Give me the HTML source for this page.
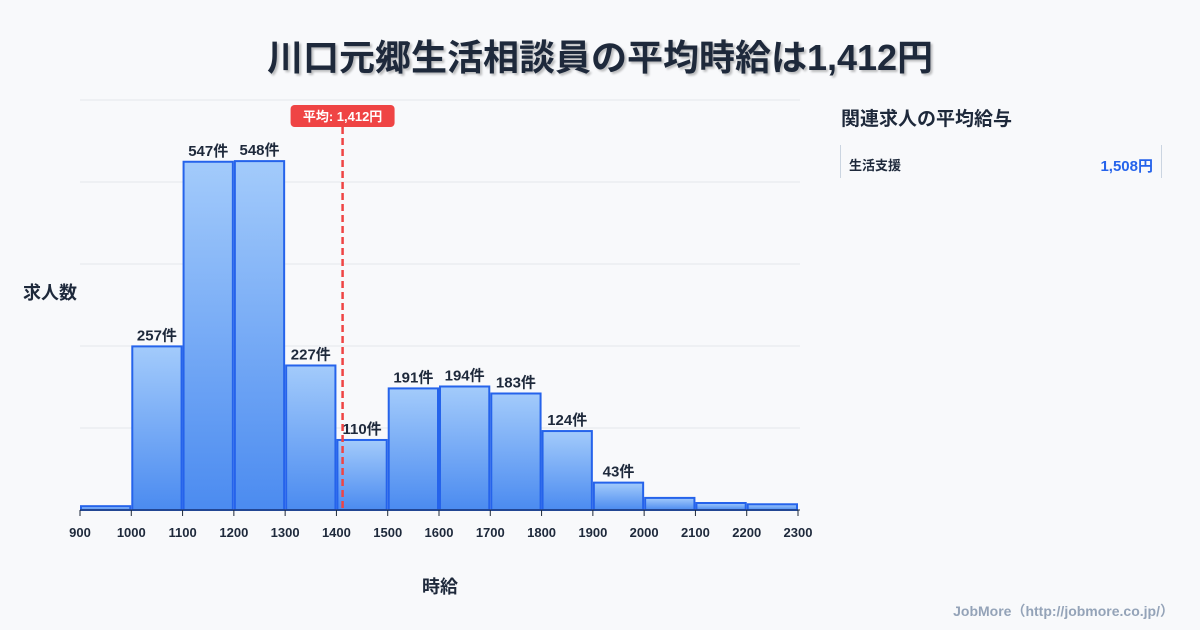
<!DOCTYPE html>
<html><head><meta charset="utf-8"><style>
body{margin:0;width:1200px;height:630px;background:#f8f9fb;font-family:"Liberation Sans","Noto Sans CJK JP",sans-serif;overflow:hidden;position:relative}
.t{position:absolute;left:0;width:1200px;text-align:center;top:29px;font-size:36px;font-weight:bold;color:#1e293b;text-shadow:2px 2px 2px rgba(0,0,0,.25)}
</style></head><body>
<div class="t">川口元郷生活相談員の平均時給は1,412円</div>
<div style="position:absolute;left:841px;top:104px;font-size:19px;font-weight:bold;color:#1e293b">関連求人の平均給与</div>
<div style="position:absolute;left:840px;top:145px;width:320px;height:33px;border-left:1px solid #cbd5e1;border-right:1px solid #cbd5e1">
<span style="position:absolute;left:8px;top:10px;font-size:13px;font-weight:bold;color:#1e293b">生活支援</span>
<span style="position:absolute;right:8px;top:10px;font-size:15px;font-weight:bold;color:#2563eb">1,508円</span></div>
<div style="position:absolute;right:26px;top:601px;font-size:14px;font-weight:bold;color:#94a3b8">JobMore（http://jobmore.co.jp/）</div>
<svg id="c" width="1200" height="630" style="position:absolute;left:0;top:0">
<defs><linearGradient id="g" x1="0" y1="0" x2="0" y2="1"><stop offset="0" stop-color="#a3cbfb"/><stop offset="1" stop-color="#4b8bf0"/></linearGradient></defs>
</svg>
<script>
const binStarts=[900,1000,1100,1200,1300,1400,1500,1600,1700,1800,1900,2000,2100,2200];
const counts=[6,257,547,548,227,110,191,194,183,124,43,19,11,9];
const showLabel=[false,true,true,true,true,true,true,true,true,true,true,false,false,false];
const xTicks=[900,1000,1100,1200,1300,1400,1500,1600,1700,1800,1900,2000,2100,2200,2300];
const meanValue=1412;
const meanLabel="平均: 1,412円";
const svg=document.getElementById('c'),NS='http://www.w3.org/2000/svg';
const X=v=>80+(v-900)*(718/1400), Y=v=>510-v*(410/644);
function mk(t,a,txt){const e=document.createElementNS(NS,t);for(const k in a)e.setAttribute(k,a[k]);if(txt!=null)e.textContent=txt;svg.appendChild(e);return e;}
for(let i=0;i<=5;i++){const e=mk('line',{x1:80,x2:800,y1:510-i*82,y2:510-i*82,stroke:'#e5e7eb'});

}
binStarts.forEach((b,i)=>{const x0=X(b)+1,x1=X(b+100)-1,y=Y(counts[i]);
const r=mk('rect',{x:x0,y:y,width:x1-x0,height:510-y,fill:'url(#g)',stroke:'#2563eb','stroke-width':2});


if(showLabel[i]){const t=mk('text',{x:(x0+x1)/2,y:y-6,'text-anchor':'middle','font-size':15,'font-weight':'bold',fill:'#1e293b'},counts[i]+'件');

}});
mk('line',{x1:80,x2:800,y1:510,y2:510,stroke:'#1e293b'});
xTicks.forEach(v=>{const l=mk('line',{x1:X(v),x2:X(v),y1:510,y2:516,stroke:'#1e293b'});


const t=mk('text',{x:X(v),y:537,'text-anchor':'middle','font-size':13,'font-weight':'bold',fill:'#1e293b'},v);

});
const mx=X(meanValue);
const ml=mk('line',{x1:mx,x2:mx,y1:127,y2:510,stroke:'#ef4444','stroke-width':2.5,'stroke-dasharray':'7,4'});


const mb=mk('rect',{x:mx-52,y:105,width:104,height:22,rx:4,fill:'#ef4444'});


const mt=mk('text',{x:mx,y:121,'text-anchor':'middle','font-size':13,'font-weight':'bold',fill:'#fff'},meanLabel);


const yt=mk('text',{x:50,y:299,'text-anchor':'middle','font-size':18,'font-weight':'bold',fill:'#1e293b'},'求人数');


const xt=mk('text',{x:440,y:593,'text-anchor':'middle','font-size':18,'font-weight':'bold',fill:'#1e293b'},'時給');


</script>
</body></html>
